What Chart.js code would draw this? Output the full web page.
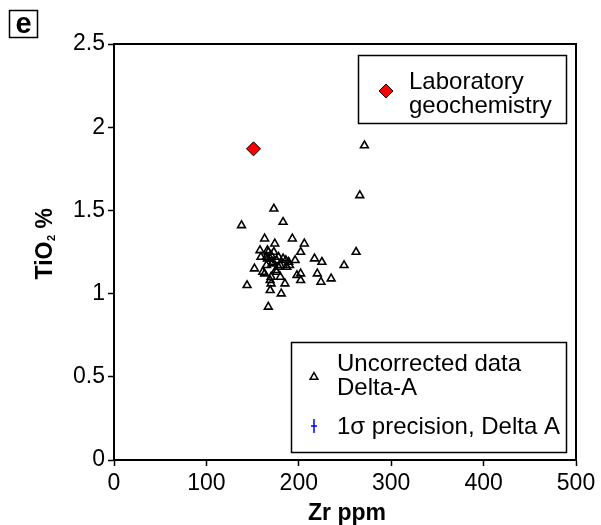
<!DOCTYPE html>
<html>
<head>
<meta charset="utf-8">
<script src="https://cdn.jsdelivr.net/npm/chart.js@4/dist/chart.umd.min.js"></script>
<style>
html,body{margin:0;padding:0;background:#fff;}
canvas{display:block;}
</style>
</head>
<body>
<canvas id="c" width="601" height="525"></canvas>
<script>
// ---- data ----
const deltaZr = [271,266,173,138,183,163,174,193,206,158,262,202,167,173,159,165,169,176,183,217,225,196,189,152,171,178,187,249,161,175,198,202,220,235,180,169,202,224,144,170,185,169,181,167,163,166,166,170,178,172,165,180,176,170,190,186];
const deltaTi = [1.89,1.59,1.51,1.41,1.43,1.33,1.30,1.33,1.30,1.26,1.25,1.25,1.25,1.25,1.22,1.22,1.21,1.20,1.21,1.21,1.19,1.20,1.19,1.15,1.18,1.16,1.16,1.17,1.13,1.14,1.11,1.12,1.12,1.09,1.10,1.08,1.08,1.07,1.05,1.06,1.06,1.02,1.00,0.92,1.12,1.21,1.26,1.23,1.22,1.19,1.17,1.17,1.13,1.10,1.17,1.20];
const labZr = [151];
const labTi = [1.87];
const xTicks = [0,100,200,300,400,500];
const yTicks = [0,0.5,1,1.5,2,2.5];
const panelLabel = 'e';
const xTitle = 'Zr ppm';
const legend1 = ['Laboratory','geochemistry'];
const legend2 = ['Uncorrected data','Delta-A'];
const legend3 = '1\u03c3 precision, Delta A';

const FONT = '"Liberation Sans", Arial, Helvetica, sans-serif';

const deco = {
  id: 'deco',
  afterDraw(chart) {
    const ctx = chart.ctx;
    const a = chart.chartArea;
    ctx.save();
    // frame
    ctx.strokeStyle = '#000';
    ctx.lineWidth = 2;
    ctx.strokeRect(a.left, a.top, a.right - a.left, a.bottom - a.top);

    // panel label
    ctx.lineWidth = 1.5;
    ctx.strokeRect(9.5, 10.5, 28, 27);
    ctx.fillStyle = '#000';
    ctx.font = 'bold 29px ' + FONT;
    ctx.textAlign = 'center';
    ctx.textBaseline = 'alphabetic';
    ctx.fillText(panelLabel, 23.5, 33);

    // x title
    ctx.font = 'bold 23px ' + FONT;
    ctx.fillText(xTitle, 347, 520);

    // y title with subscript
    ctx.save();
    ctx.translate(52, 244);
    ctx.rotate(-Math.PI / 2);
    ctx.textAlign = 'left';
    const p1 = 'TiO', p2 = '2', p3 = ' %';
    ctx.font = 'bold 23px ' + FONT;
    const w1 = ctx.measureText(p1).width, w3 = ctx.measureText(p3).width;
    ctx.font = 'bold 11px ' + FONT;
    const w2 = ctx.measureText(p2).width;
    let x0 = -(w1 + w2 + w3) / 2;
    ctx.font = 'bold 23px ' + FONT;
    ctx.fillText(p1, x0, 0);
    ctx.font = 'bold 11px ' + FONT;
    ctx.fillText(p2, x0 + w1 + 0.5, 3);
    ctx.font = 'bold 23px ' + FONT;
    ctx.fillText(p3, x0 + w1 + w2 + 0.5, 0);
    ctx.restore();

    // legend 1
    ctx.lineWidth = 1.5;
    ctx.strokeStyle = '#000';
    ctx.fillStyle = '#fff';
    ctx.fillRect(358.5, 55.5, 208, 68);
    ctx.strokeRect(358.5, 55.5, 208, 68);
    ctx.fillStyle = '#ff0000';
    ctx.strokeStyle = '#000';
    ctx.lineWidth = 1;
    Chart.helpers.drawPoint(ctx, {pointStyle: 'rectRot', radius: 7, rotation: 0, borderWidth: 1}, 386, 91);
    ctx.fillStyle = '#000';
    ctx.font = '24px ' + FONT;
    ctx.textAlign = 'left';
    ctx.fillText(legend1[0], 409, 89);
    ctx.fillText(legend1[1], 409, 113);

    // legend 2
    ctx.lineWidth = 1.5;
    ctx.fillStyle = '#fff';
    ctx.fillRect(291.5, 342.5, 275, 110);
    ctx.strokeRect(291.5, 342.5, 275, 110);
    ctx.fillStyle = '#fff';
    ctx.strokeStyle = '#000';
    ctx.lineWidth = 1.5;
    Chart.helpers.drawPoint(ctx, {pointStyle: 'triangle', radius: 4.5, rotation: 0, borderWidth: 1.5}, 314, 377);
    ctx.fillStyle = '#000';
    ctx.font = '24px ' + FONT;
    ctx.fillText(legend2[0], 337, 371);
    ctx.fillText(legend2[1], 337, 395);
    // error bar symbol
    ctx.strokeStyle = '#0000ff';
    ctx.lineWidth = 1.5;
    ctx.beginPath();
    ctx.moveTo(314, 419); ctx.lineTo(314, 433);
    ctx.moveTo(311, 426); ctx.lineTo(317, 426);
    ctx.stroke();
    ctx.fillText(legend3, 337, 434);
    ctx.restore();
  }
};

new Chart(document.getElementById('c'), {
  type: 'scatter',
  data: {
    datasets: [
      {
        label: 'Uncorrected data Delta-A',
        data: deltaZr.map((x, i) => ({x: x, y: deltaTi[i]})),
        pointStyle: 'triangle',
        pointRadius: 4.5,
        pointBorderWidth: 1.6,
        borderColor: '#000',
        backgroundColor: 'rgba(255,255,255,0)',
        order: 2
      },
      {
        label: 'Laboratory geochemistry',
        data: labZr.map((x, i) => ({x: x, y: labTi[i]})),
        pointStyle: 'rectRot',
        pointRadius: 7,
        pointBorderWidth: 1,
        borderColor: '#000',
        backgroundColor: '#ff0000',
        order: 1
      }
    ]
  },
  options: {
    responsive: false,
    animation: false,
    devicePixelRatio: 1,
    layout: {padding: {left: 0, top: 44, right: 25, bottom: 0}},
    plugins: {legend: {display: false}, tooltip: {enabled: false}},
    scales: {
      x: {
        type: 'linear', min: 0, max: 500,
        afterBuildTicks: s => { s.ticks = xTicks.map(v => ({value: v})); },
        ticks: {color: '#000', font: {family: FONT, size: 23}, padding: 4, maxRotation: 0,
                callback: v => String(v)},
        grid: {drawOnChartArea: false, tickLength: 6, tickColor: '#000', tickWidth: 1.5},
        border: {display: true, color: '#000', width: 2},
        afterFit: s => { s.height = 65; }
      },
      y: {
        type: 'linear', min: 0, max: 2.5,
        afterBuildTicks: s => { s.ticks = yTicks.map(v => ({value: v})); },
        ticks: {color: '#000', font: {family: FONT, size: 23}, padding: 3,
                callback: v => String(v)},
        grid: {drawOnChartArea: false, tickLength: 6, tickColor: '#000', tickWidth: 1.5},
        border: {display: true, color: '#000', width: 2},
        afterFit: s => { s.width = 114; }
      }
    }
  },
  plugins: [deco]
});
</script>
</body>
</html>
